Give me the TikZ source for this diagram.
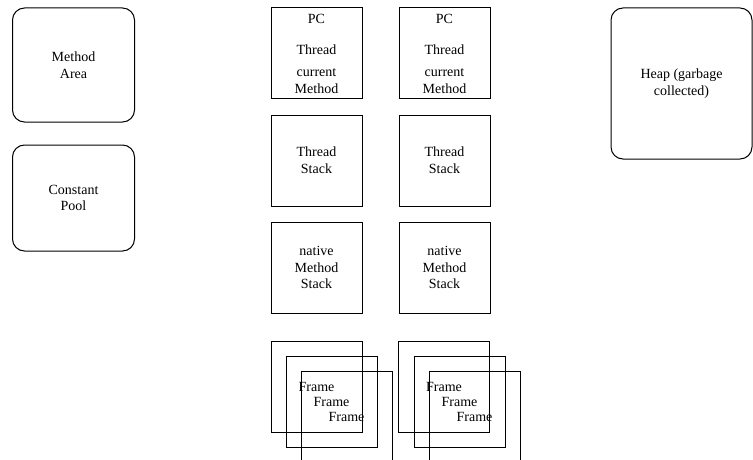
\documentclass[tikz,border=0pt]{standalone}
\usepackage{fontspec}
\setmainfont{Liberation Serif}
\usetikzlibrary{positioning}

\begin{document}
\begin{tikzpicture}[
  x=0.75pt, y=-0.75pt,
  node distance=11.25pt and 27pt,
  area/.style={draw, line width=0.75pt, rounded corners=9pt, align=center, minimum width=91.5pt, inner sep=0pt, font=\fontsize{10.5}{12.5}\selectfont},
  box/.style={draw, line width=0.75pt, align=center, minimum width=68.25pt, minimum height=68.25pt, inner sep=0pt, font=\fontsize{10.5}{12.5}\selectfont},
  framebox/.style={box, anchor=center}
]
\useasboundingbox (0,0) rectangle (753,460);

% shared areas
\node[area, minimum height=85.5pt] (method) at (73.5,65) {Method\\Area};
\node[area, minimum height=79.5pt, below=16.5pt of method] (pool) {Constant\\Pool};
\node[area, minimum width=105.75pt, minimum height=113.25pt] (heap) at (681.5,83.5) {Heap (garbage\\collected)};

% first thread
\node[box] (pcA) at (316.5,53.5) {PC\\[11pt]Thread\\[4pt]current\\Method};
\node[box, below=of pcA] (stackA) {Thread\\Stack};
\node[box, below=of stackA] (nativeA) {native\\Method\\Stack};
\node[framebox] (frameA1) at (316.5,386.5) {Frame};
\node[framebox] (frameA2) at (331.5,401.5) {Frame};
\node[framebox] (frameA3) at (346.5,416.5) {Frame};

% second thread
\node[box, right=of pcA] (pcB) {PC\\[11pt]Thread\\[4pt]current\\Method};
\node[box, below=of pcB] (stackB) {Thread\\Stack};
\node[box, below=of stackB] (nativeB) {native\\Method\\Stack};
\node[framebox] (frameB1) at (444,386.5) {Frame};
\node[framebox] (frameB2) at (459.5,401.5) {Frame};
\node[framebox] (frameB3) at (474.5,416.5) {Frame};
\end{tikzpicture}
\end{document}
